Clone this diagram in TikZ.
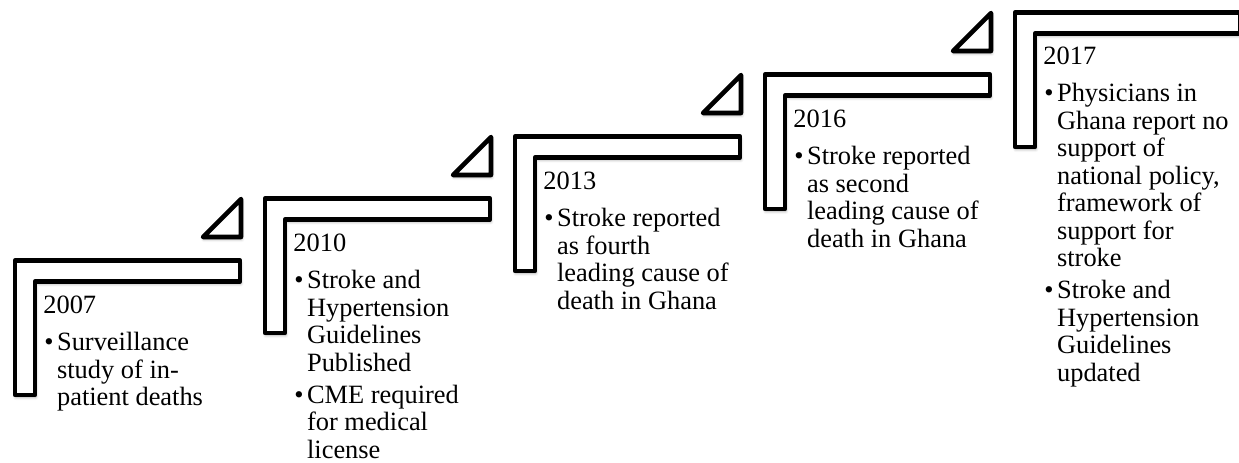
\documentclass[tikz,border=0pt]{standalone}
\usepackage{fontspec}
\setmainfont{Liberation Serif}
\usetikzlibrary{shadows.blur}

% top-aligned block of lines, baseline on its first line
\newcommand{\linesblock}[1]{\begin{tabular}[t]{@{}l@{}}#1\end{tabular}}

\tikzset{
  stepline/.style={draw=black, line width=2.3pt, fill=white, line join=round,
    blur shadow={shadow xshift=0.4pt, shadow yshift=-1.2pt,
                 shadow blur radius=1.4pt, shadow opacity=35}},
  bodyfont/.style={font=\fontsize{13.2}{13.75}\selectfont},
  yeartext/.style={bodyfont, anchor=base west, inner sep=0pt},
  itemtext/.style={bodyfont, anchor=base west, inner sep=0pt},
  bulletmark/.style={bodyfont, anchor=base west, inner sep=0pt},
  % one stair: an L-shaped tread, origin at its outer top-left corner
  pics/stairstep/.style={code={
    \draw[stepline] (0,0) -- (225,0) -- (225,21) -- (20,21)
                    -- (20,134.5) -- (0,134.5) -- cycle;
  }},
  % the small triangle sitting over a stair's right end
  pics/riser/.style={code={
    \draw[stepline] (188,-23.5) -- (226,-23.5) -- (226,-61.5) -- cycle;
  }},
}

\begin{document}
\begin{tikzpicture}[x=0.5pt, y=-0.5pt]
\useasboundingbox (0,0) rectangle (1239,462);

% stairs
\pic at (15,260.5)  {stairstep};
\pic at (15,260.5)  {riser};
\pic at (265,198.5) {stairstep};
\pic at (265,198.5) {riser};
\pic at (515,136.5) {stairstep};
\pic at (515,136.5) {riser};
\pic at (765,74.5)  {stairstep};
\pic at (765,74.5)  {riser};
\pic at (1015,12.5) {stairstep};

% 2007
\node[yeartext]   (y1)  at (43,313)     {2007};
\node[bulletmark] (b1a) at (44,350.5)   {\textbullet};
\node[itemtext]   (t1a) at (56.7,350.5) {\linesblock{Surveillance\\study of in-\\patient deaths}};

% 2010
\node[yeartext]   (y2)  at (293,251)     {2010};
\node[bulletmark] (b2a) at (294,288.5)   {\textbullet};
\node[itemtext]   (t2a) at (306.7,288.5) {\linesblock{Stroke and\\Hypertension\\Guidelines\\Published}};
\node[bulletmark] (b2b) at (294,403)     {\textbullet};
\node[itemtext]   (t2b) at (306.7,403)   {\linesblock{CME required\\for medical\\license}};

% 2013
\node[yeartext]   (y3)  at (543,189)     {2013};
\node[bulletmark] (b3a) at (544,226.5)   {\textbullet};
\node[itemtext]   (t3a) at (556.7,226.5) {\linesblock{Stroke reported\\as fourth\\leading cause of\\death in Ghana}};

% 2016
\node[yeartext]   (y4)  at (793,127)     {2016};
\node[bulletmark] (b4a) at (794,164.5)   {\textbullet};
\node[itemtext]   (t4a) at (806.7,164.5) {\linesblock{Stroke reported\\as second\\leading cause of\\death in Ghana}};

% 2017
\node[yeartext]   (y5)  at (1043,64)      {2017};
\node[bulletmark] (b5a) at (1044,101.5)   {\textbullet};
\node[itemtext]   (t5a) at (1056.7,101.5) {\linesblock{Physicians in\\Ghana report no\\support of\\national policy,\\framework of\\support for\\stroke}};
\node[bulletmark] (b5b) at (1044,298.5)   {\textbullet};
\node[itemtext]   (t5b) at (1056.7,298.5) {\linesblock{Stroke and\\Hypertension\\Guidelines\\updated}};
\end{tikzpicture}
\end{document}
